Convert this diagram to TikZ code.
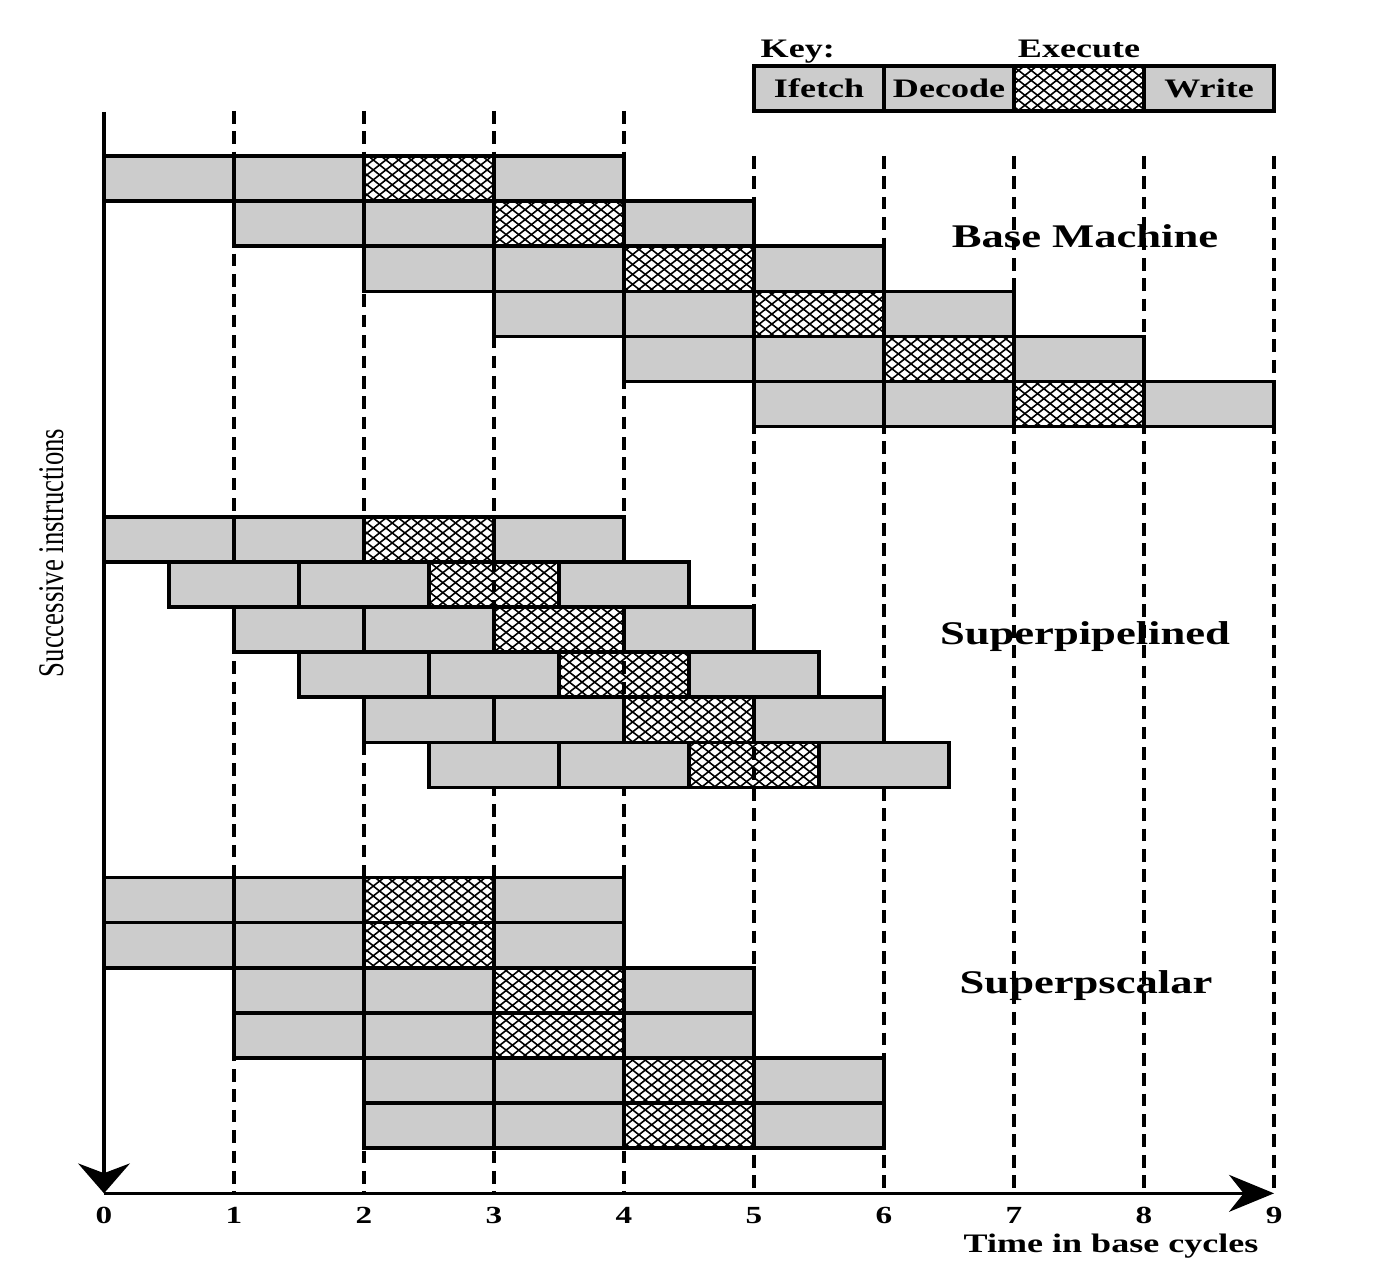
\documentclass[tikz,border=0pt]{standalone}
\usepackage{fontspec}
\usepackage{graphicx}
\setmainfont{Liberation Serif}
\usetikzlibrary{arrows.meta,patterns.meta,positioning}

% the whole figure is stretched sideways
\newcommand{\widen}[1]{\scalebox{1.35}[1]{#1}}

\pgfdeclarepattern{
  name=execgrid,
  type=uncolored,
  bottom left={\pgfpoint{-.1pt}{-.1pt}},
  top right={\pgfpoint{3.7pt}{2.93pt}},
  tile size={\pgfpoint{3.6pt}{2.83pt}},
  code={
    \pgfsetlinewidth{0.45pt}
    \pgfpathmoveto{\pgfpoint{-.1pt}{-.0786pt}}
    \pgfpathlineto{\pgfpoint{3.7pt}{2.9086pt}}
    \pgfpathmoveto{\pgfpoint{-.1pt}{2.9086pt}}
    \pgfpathlineto{\pgfpoint{3.7pt}{-.0786pt}}
    \pgfusepath{stroke}
  }
}

\tikzset{
  stagebox/.style={draw,line width=1pt,fill=black!20},
  execbox/.style={draw,line width=1pt,pattern=execgrid},
  cyclegrid/.style={line width=0.9pt,dash pattern=on 3.6pt off 2.2pt},
  timeaxis/.style={line width=0.9pt},
  keycell/.style={draw,line width=1pt,fill=black!20,minimum width=1.3cm,minimum height=0.451cm,
    inner sep=0pt,outer sep=0pt,font=\bfseries\fontsize{7.6}{9}\selectfont},
  keytext/.style={font=\bfseries\fontsize{7.6}{9}\selectfont,inner sep=0pt},
  schemetitle/.style={font=\bfseries\fontsize{9.4}{11}\selectfont,inner sep=0pt,anchor=base},
  ticklabel/.style={font=\bfseries\fontsize{7}{8}\selectfont,inner sep=0pt,anchor=base}
}

\begin{document}
\begin{tikzpicture}[x=1.3cm,y=-0.451cm]
\useasboundingbox (-0.8,-3.459) rectangle (9.838,24.678);

% dashed cycle lines
\foreach \t in {1,...,9}{
  \ifnum\t<5 \def\gridtop{-1}\else\def\gridtop{0}\fi
  \draw[cyclegrid] (\t,\gridtop) -- (\t,23);
}

% base machine
\foreach \i in {0,...,5}{
  \foreach \s in {0,...,3}{
    \pgfmathsetmacro{\xs}{\i+\s}
    \ifnum\s=2
    \draw[execbox] (\xs,\i) rectangle ++(1,1);
    \else
    \draw[stagebox] (\xs,\i) rectangle ++(1,1);
    \fi
  }
}

% superpipelined
\foreach \i in {0,...,5}{
  \foreach \s in {0,...,3}{
    \pgfmathsetmacro{\xs}{\i*0.5+\s}
    \pgfmathsetmacro{\ys}{\i+8}
    \ifnum\s=2
    \draw[execbox] (\xs,\ys) rectangle ++(1,1);
    \else
    \draw[stagebox] (\xs,\ys) rectangle ++(1,1);
    \fi
  }
}

% superscalar
\foreach \i in {0,...,5}{
  \foreach \s in {0,...,3}{
    \pgfmathsetmacro{\xs}{int(\i/2)+\s}
    \pgfmathsetmacro{\ys}{\i+16}
    \ifnum\s=2
    \draw[execbox] (\xs,\ys) rectangle ++(1,1);
    \else
    \draw[stagebox] (\xs,\ys) rectangle ++(1,1);
    \fi
  }
}

% axes
\coordinate (origin) at (0,23);
\coordinate (ytop) at (0,-0.98);
\coordinate (xend) at (9,23);
\draw[timeaxis,-{Stealth[length=8.5pt,width=14.7pt]}] (ytop) -- (origin);
\draw[timeaxis,-{Stealth[length=12.8pt,width=10.5pt]}] (origin) -- (xend);

\foreach \t in {0,...,9}
  \node[ticklabel] (tick\t) at (\t,23.66) {\widen{\t}};

\node[keytext,anchor=base] (xlabel) at (7.746,24.32) {\widen{Time in base cycles}};
\node[rotate=90,inner sep=0pt,font=\fontsize{7.6}{9}\selectfont] (ylabel) at (-0.4,8.8)
  {\scalebox{1}[1.35]{Successive instructions}};

\node[schemetitle] (base) at (7.546,2.02) {\widen{Base Machine}};
\node[schemetitle] (superpipe) at (7.546,10.84) {\widen{Superpipelined}};
\node[schemetitle] (superscalar) at (7.554,18.56) {\widen{Superpscalar}};

% key
\node[keycell] (kfetch) at (5.5,-1.5) {\widen{Ifetch}};
\node[keycell,right=0pt of kfetch] (kdecode) {\widen{Decode}};
\node[keycell,right=0pt of kdecode,fill=none,pattern=execgrid] (kexec) {};
\node[keycell,right=0pt of kexec] (kwrite) {\widen{Write}};
\node[keytext,anchor=base west] (keytitle) at (5.046,-2.173) {\widen{Key:}};
\node[keytext,anchor=base] (exectitle) at (kexec.center |- keytitle.base) {\widen{Execute}};

\end{tikzpicture}
\end{document}
